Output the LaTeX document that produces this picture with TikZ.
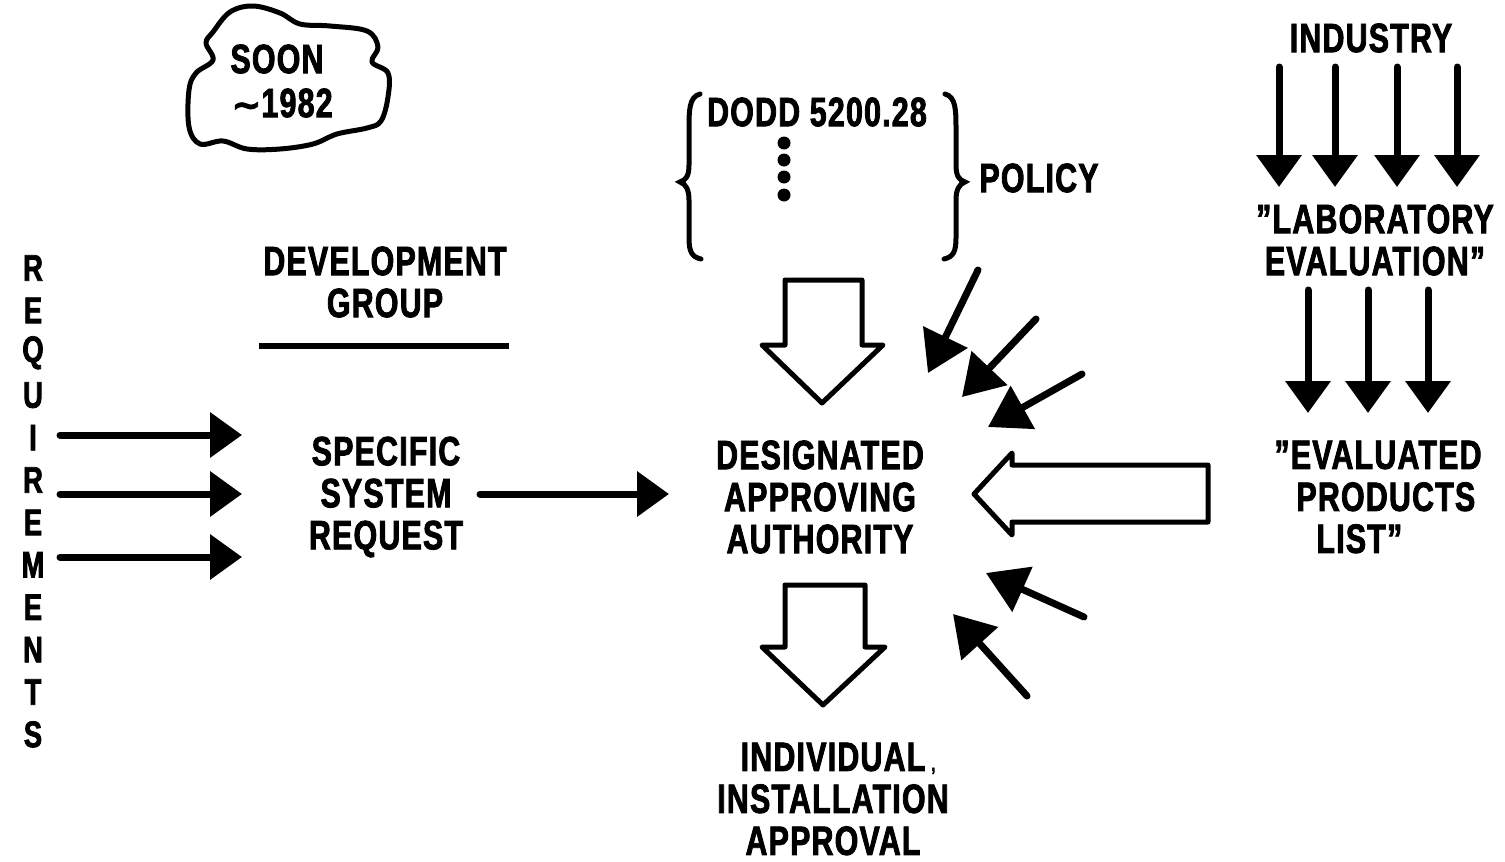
\documentclass[tikz,border=0pt]{standalone}
\usepackage{fontspec}
\setmainfont{Liberation Sans}[FakeStretch=0.74, FakeBold=2, LetterSpace=3]
\newfontfamily\symfont{DejaVu Sans}[FakeBold=2]
\usetikzlibrary{arrows.meta}

\begin{document}
\begin{tikzpicture}[x=1pt,y=-1pt,
  lbl/.style={font=\fontsize{41}{42}\selectfont\bfseries, inner sep=0pt, align=center},
  vlet/.style={font=\fontsize{37}{38}\selectfont\bfseries, inner sep=0pt},
  solidarrow/.style={line width=7pt, line cap=round,
    -{Triangle[length=32pt,width=44pt]}},
  diagarrow/.style={line width=7pt, line cap=round,
    -{Triangle[length=40pt,width=48pt]}},
  hollow/.style={line width=5pt, line join=round, fill=white},
  brace/.style={line width=5pt, line cap=round}
]
\useasboundingbox (0,0) rectangle (1505,862);

% cloud around the date
\draw[line width=5pt, line join=round]
  plot[smooth cycle, tension=0.6] coordinates {
  (213,32) (230,12) (253,6) (280,13) (300,24) (330,26) (367,31) (378,47)
  (372,62) (388,73) (388,97) (381,121) (367,128) (337,134) (313,144)
  (280,149) (247,149) (223,141) (200,144) (189,127) (189,90) (196,73)
  (213,60) (206,43)};
\node[lbl] (soon) at (277,59) {SOON};
\node[lbl] (year) at (282,103) {{\symfont\bfseries\fontsize{36}{36}\selectfont ∼}1982};

% policy bracket
\node[lbl] (dodd) at (817,112) {DODD 5200.28};
\foreach \yy [count=\i] in {143,160,177,195}
  \fill (784,\yy) circle (6.5pt) coordinate (dot\i);
\draw[brace] (700,94) .. controls (689,97) and (689,110) .. (689,130)
  -- (689,165) .. controls (689,176) and (686,180) .. (680,182)
  .. controls (686,184) and (689,190) .. (689,200)
  -- (689,238) .. controls (689,252) and (692,257) .. (701,259);
\draw[brace] (945,94) .. controls (956,97) and (956,110) .. (956,130)
  -- (956,165) .. controls (956,176) and (959,180) .. (965,182)
  .. controls (959,184) and (956,190) .. (956,200)
  -- (956,238) .. controls (956,252) and (953,257) .. (944,259);
\node[lbl] (policy) at (1039,178) {POLICY};

% development group
\node[lbl] (dev) at (385,282) {DEVELOPMENT\\GROUP};
\coordinate (ulA) at (259,346);
\coordinate (ulB) at (509,346);
\draw[line width=6pt] (ulA) -- (ulB);

% requirements, written downwards
\foreach \ch [count=\i from 0] in {R,E,Q,U,I,R,E,M,E,N,T,S}
  \node[vlet] (req\i) at (33,{268+42.4*\i}) {\ch};

\foreach \yy [count=\i] in {435,494,557}{
  \coordinate (ra\i) at (60,\yy);
  \coordinate (rb\i) at (242,\yy);
  \draw[solidarrow] (ra\i) -- (rb\i);
}

\node[lbl] (ssr) at (386,497) {SPECIFIC\\SYSTEM\\REQUEST};
\coordinate (sa) at (480,494);
\coordinate (sb) at (669,494);
\draw[solidarrow] (sa) -- (sb);

\node[lbl] (daa) at (820,497) {DESIGNATED\\APPROVING\\AUTHORITY};

% broad arrows into and out of the approving authority
\draw[hollow] (785,280) -- (862,280) -- (862,345) -- (883,345) -- (822,403)
  -- (762,345) -- (785,345) -- cycle;
\draw[hollow] (785,585) -- (865,585) -- (865,647) -- (885,647) -- (823,705)
  -- (762,647) -- (785,647) -- cycle;
\draw[hollow] (1208,465) -- (1012,465) -- (1012,453) -- (974,494)
  -- (1012,535) -- (1012,522) -- (1208,522) -- cycle;

% thin arrows converging on the authority
\coordinate (d1a) at (978,270);  \coordinate (d1b) at (928,373);
\coordinate (d2a) at (1036,319); \coordinate (d2b) at (962,397);
\coordinate (d3a) at (1082,374); \coordinate (d3b) at (988,427);
\coordinate (d4a) at (1084,617); \coordinate (d4b) at (986,573);
\coordinate (d5a) at (1027,696); \coordinate (d5b) at (953,614);
\foreach \i in {1,...,5}
  \draw[diagarrow] (d\i a) -- (d\i b);

\node[lbl] (iia) at (833,799) {INDIVIDUAL\rlap{\kern6pt\fontsize{20}{20}\selectfont ,}\\INSTALLATION\\APPROVAL};

% industry evaluation chain
\node[lbl] (ind) at (1371,38) {INDUSTRY};
\foreach \xx [count=\i] in {1279,1335,1397,1457}{
  \coordinate (ia\i) at (\xx,67);
  \coordinate (ib\i) at (\xx,187);
  \draw[solidarrow] (ia\i) -- (ib\i);
}
\node[lbl] (lab) at (1375,240) {”LABORATORY\\EVALUATION”};
\foreach \xx [count=\i] in {1308,1368,1428}{
  \coordinate (la\i) at (\xx,290);
  \coordinate (lb\i) at (\xx,413);
  \draw[solidarrow] (la\i) -- (lb\i);
}
\node[lbl, align=left] (epl) at (1378,497) {\hspace*{0pt}”EVALUATED\\\hspace*{22pt}PRODUCTS\\\hspace*{42pt}LIST”};
\end{tikzpicture}
\end{document}
